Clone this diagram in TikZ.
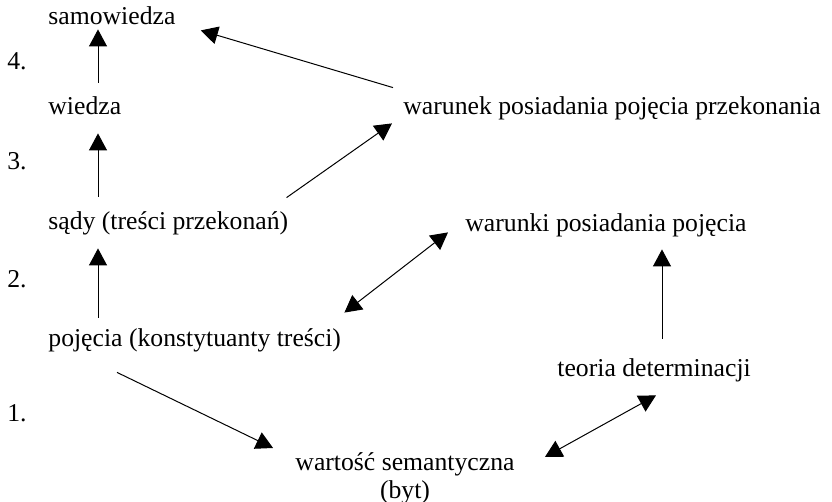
\documentclass[tikz,border=0pt]{standalone}
\usepackage{fontspec}
\setmainfont{Liberation Serif}
\usetikzlibrary{arrows.meta,positioning,calc}

\begin{document}
\begin{tikzpicture}[
  x=0.5pt,y=-0.5pt,
  lbl/.style={inner sep=0pt,anchor=base west,text height=9pt,text depth=3pt,
    font=\fontsize{12.85}{14}\selectfont},
  num/.style={lbl},
  conn/.style={line width=0.5pt},
  >={Triangle[length=8.5pt,width=9pt]}]
\useasboundingbox (0,0) rectangle (832,502);
% levels
\node[num] (n4) at (7,70) {4.};
\node[num] (n3) at (7,170) {3.};
\node[num] (n2) at (7,288) {2.};
\node[num] (n1) at (7,422) {1.};
% left column
\node[lbl] (samo) at (48,25) {samowiedza};
\node[lbl] (wiedza) at (48,115) {wiedza};
\node[lbl] (sady) at (48,230) {sądy (treści przekonań)};
\node[lbl] (pojecia) at (48,347) {pojęcia (konstytuanty treści)};
% right side
\node[lbl] (warunek) at (403,115) {warunek posiadania pojęcia przekonania};
\node[lbl] (warunki) at (465,232) {warunki posiadania pojęcia};
\node[lbl] (teoria) at (557,377) {teoria determinacji};
\node[lbl,anchor=north,align=center,text height=,text depth=] (wartosc) at (405,452) {wartość semantyczna\\(byt)};
% connectors
\draw[conn,->] ($(wiedza.north west)+(50,-14)$) -- ($(samo.south west)+(50,-2)$);
\draw[conn,->] ($(sady.north west)+(50,-15)$) -- ($(wiedza.south west)+(50,12)$);
\draw[conn,->] ($(pojecia.north west)+(50,-11)$) -- ($(sady.south west)+(50,12)$);
\draw[conn,->] ($(warunek.north west)+(-10,-9)$) -- ($(samo.south east)+(25,-1)$);
\draw[conn,->] ($(sady.north east)+(-2,-14)$) -- ($(warunek.south west)+(-11,2)$);
\draw[conn,<->] ($(pojecia.north east)+(3,-16)$) -- ($(warunki.south west)+(-17,-6)$);
\draw[conn,->] ($(teoria.north west)+(105,-20)$) -- ($(warunki.south west)+(197,11)$);
\draw[conn,<->] ($(teoria.south west)+(99,12)$) -- ($(wartosc.north east)+(30,5)$);
\draw[conn,->] ($(pojecia.south west)+(69,19)$) -- ($(wartosc.north west)+(-22,-4)$);
\end{tikzpicture}
\end{document}
